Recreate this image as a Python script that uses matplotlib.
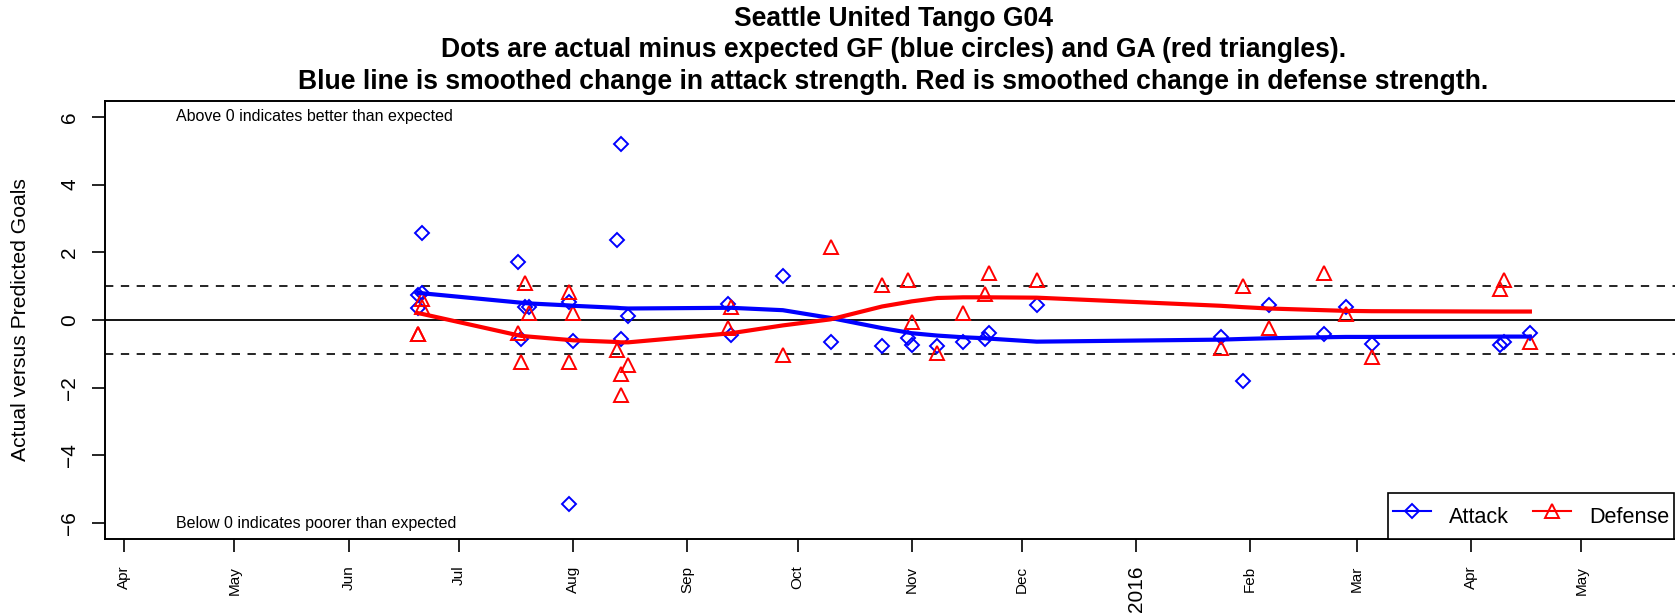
import pandas as pd
import matplotlib
matplotlib.use("Agg")
import matplotlib.pyplot as plt
from matplotlib.lines import Line2D

plt.rcParams['font.family'] = ['Liberation Sans', 'DejaVu Sans']

title_lines = [
    "Seattle United Tango G04",
    "Dots are actual minus expected GF (blue circles) and GA (red triangles).",
    "Blue line is smoothed change in attack strength. Red is smoothed change in defense strength.",
]

game_dates = ["2015-06-20", "2015-06-20", "2015-06-21", "2015-06-21",
              "2015-07-17", "2015-07-18", "2015-07-19", "2015-07-20",
              "2015-07-31", "2015-07-31", "2015-08-01",
              "2015-08-13", "2015-08-14", "2015-08-14", "2015-08-16",
              "2015-09-12", "2015-09-13", "2015-09-27", "2015-10-10",
              "2015-10-24", "2015-10-31", "2015-11-01", "2015-11-08",
              "2015-11-15", "2015-11-21", "2015-11-22", "2015-12-05",
              "2016-01-24", "2016-01-30", "2016-02-06", "2016-02-21",
              "2016-02-27", "2016-03-05", "2016-04-09", "2016-04-10",
              "2016-04-17"]

attack = [0.34, 0.74, 2.57, 0.80, 1.70, -0.57, 0.37, 0.37, 0.54, -5.44, -0.61,
          2.35, 5.20, -0.57, 0.12, 0.47, -0.44, 1.29, -0.64, -0.78, -0.54, -0.74,
          -0.78, -0.64, -0.57, -0.39, 0.44, -0.49, -1.80, 0.44, -0.41, 0.39,
          -0.71, -0.74, -0.64, -0.39]
defense = [-0.41, -0.41, 0.39, 0.61, -0.37, -1.23, 1.08, 0.20, 0.83, -1.23, 0.20,
           -0.88, -2.23, -1.60, -1.34, -0.25, 0.39, -1.03, 2.16, 1.03, 1.18, -0.05,
           -0.98, 0.20, 0.76, 1.39, 1.18, -0.83, 1.00, -0.23, 1.39, 0.18,
           -1.08, 0.93, 1.18, -0.64]

attack_smooth = [0.80, 0.80, 0.79, 0.79, 0.52, 0.51, 0.50, 0.49, 0.43, 0.43, 0.42,
                 0.36, 0.35, 0.35, 0.34, 0.36, 0.36, 0.29, 0.06, -0.24, -0.37, -0.39,
                 -0.46, -0.51, -0.54, -0.55, -0.64, -0.58, -0.56, -0.54, -0.51, -0.50,
                 -0.50, -0.49, -0.49, -0.49]
defense_smooth = [0.20, 0.20, 0.18, 0.18, -0.45, -0.47, -0.48, -0.49, -0.59, -0.59, -0.60,
                  -0.65, -0.66, -0.66, -0.66, -0.40, -0.39, -0.16, 0.02, 0.40, 0.53, 0.55,
                  0.65, 0.67, 0.67, 0.67, 0.66, 0.42, 0.38, 0.34, 0.29, 0.27,
                  0.26, 0.25, 0.25, 0.25]

tick_dates = ["2015-04-01", "2015-05-01", "2015-06-01", "2015-07-01", "2015-08-01",
              "2015-09-01", "2015-10-01", "2015-11-01", "2015-12-01", "2016-01-01",
              "2016-02-01", "2016-03-01", "2016-04-01", "2016-05-01"]
tick_labels = ["Apr", "May", "Jun", "Jul", "Aug", "Sep", "Oct", "Nov", "Dec", "2016",
               "Feb", "Mar", "Apr", "May"]

dates = pd.to_datetime(game_dates)

fig = plt.figure(figsize=(16.75, 6.16), dpi=100)
ax = fig.add_axes([105 / 1675, 1 - 539.3 / 616, 1577 / 1675, 438.6 / 616])

ax.axhline(0, color="black", lw=1.3)
ax.axhline(1, color="black", lw=1.2, dashes=(5, 4.5))
ax.axhline(-1, color="black", lw=1.2, dashes=(5, 4.5))

ax.plot(dates, attack, linestyle="none", marker="D", ms=7, mfc="none",
        mec="blue", mew=1.4)
ax.plot(dates, defense, linestyle="none", marker="^", ms=9.5, mfc="none",
        mec="red", mew=1.4)
ax.plot(dates, attack_smooth, color="blue", lw=3)
ax.plot(dates, defense_smooth, color="red", lw=3)

ax.set_xlim(pd.Timestamp("2015-03-26 20:00"), pd.Timestamp("2016-05-28 08:00"))
ax.set_ylim(-6.48, 6.48)

ax.set_xticks(pd.to_datetime(tick_dates))
ax.set_xticklabels(tick_labels, rotation=90, fontsize=11, va="top", ha="center")
ax.get_xticklabels()[9].set_fontsize(15)
ax.set_yticks([-6, -4, -2, 0, 2, 4, 6])
ax.set_yticklabels(["\u22126", "\u22124", "\u22122", "0", "2", "4", "6"],
                   rotation=90, va="center", fontsize=15)
ax.tick_params(axis="both", length=9.5, width=1.2, direction="out")
ax.tick_params(axis="y", pad=9)
ax.tick_params(axis="x", pad=9.5)
for s in ax.spines.values():
    s.set_linewidth(1.4)

ax.set_ylabel("Actual versus Predicted Goals", fontsize=15.2, labelpad=22)
ax.set_title("\n".join(title_lines), fontsize=19.1, fontweight="bold",
             linespacing=1.27, pad=8.5)

ax.text(pd.Timestamp("2015-04-15"), 6, "Above 0 indicates better than expected",
        fontsize=11.5, va="center", ha="left")
ax.text(pd.Timestamp("2015-04-15"), -6, "Below 0 indicates poorer than expected",
        fontsize=11.5, va="center", ha="left")

handles = [
    Line2D([], [], color="blue", lw=1.5, marker="D", ms=7, mfc="none", mew=1.4),
    Line2D([], [], color="red", lw=1.5, marker="^", ms=9.5, mfc="none", mew=1.4),
]
leg = ax.legend(handles, ["Attack", "Defense"], loc="lower right",
                bbox_to_anchor=(0.995, 0), ncol=2,
                fontsize=15.6, fancybox=False, framealpha=1, edgecolor="black",
                borderaxespad=0, borderpad=0.22, handleheight=2.2,
                handlelength=1.75, handletextpad=0.85, columnspacing=1.1)
leg.get_frame().set_linewidth(1.2)

fig.savefig("out.png", dpi=100)
